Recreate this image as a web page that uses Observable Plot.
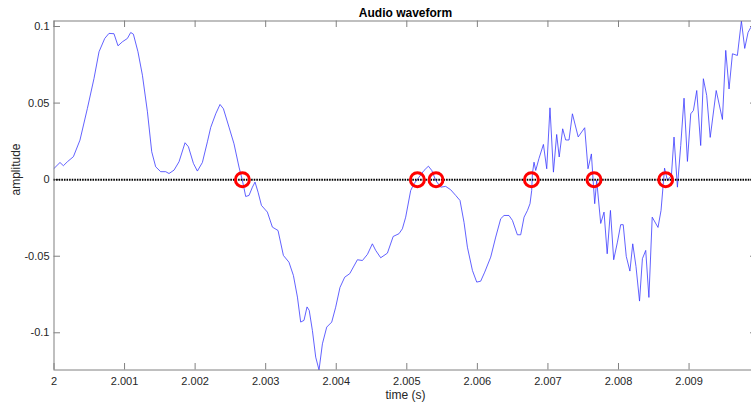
<!DOCTYPE html>
<html>
<head>
<meta charset="utf-8">
<script src="https://cdn.jsdelivr.net/npm/d3@7"></script>
<script src="https://cdn.jsdelivr.net/npm/@observablehq/plot@0.6"></script>
<style>
  html, body { margin: 0; padding: 0; background: #fff; overflow: hidden; }
  #chart svg { display: block; }
</style>
</head>
<body>
<div id="chart"></div>
<script>
// Sample times (s) and amplitudes of the audio excerpt
const time = [
  2.000000, 2.000085, 2.000133, 2.000190, 2.000275, 2.000368, 2.000473, 2.000567, 2.000638, 2.000719,
  2.000779, 2.000850, 2.000907, 2.000969, 2.001040, 2.001087, 2.001125, 2.001190, 2.001253, 2.001324,
  2.001385, 2.001441, 2.001512, 2.001583, 2.001630, 2.001701, 2.001772, 2.001857, 2.001905, 2.001976,
  2.002032, 2.002103, 2.002174, 2.002221, 2.002292, 2.002353, 2.002401, 2.002480, 2.002551, 2.002622,
  2.002670, 2.002717, 2.002764, 2.002812, 2.002849, 2.002892, 2.002940, 2.003024, 2.003095, 2.003175,
  2.003251, 2.003330, 2.003393, 2.003450, 2.003496, 2.003543, 2.003586, 2.003617, 2.003662, 2.003709,
  2.003756, 2.003804, 2.003865, 2.003936, 2.003992, 2.004053, 2.004120, 2.004191, 2.004300, 2.004371,
  2.004442, 2.004512, 2.004559, 2.004630, 2.004725, 2.004807, 2.004889, 2.004937, 2.004984, 2.005055,
  2.005102, 2.005173, 2.005244, 2.005306, 2.005354, 2.005410, 2.005480, 2.005551, 2.005622, 2.005693,
  2.005754, 2.005811, 2.005859, 2.005930, 2.005991, 2.006047, 2.006104, 2.006189, 2.006260, 2.006331,
  2.006378, 2.006448, 2.006497, 2.006567, 2.006614, 2.006662, 2.006710, 2.006746, 2.006770, 2.006780,
  2.006803, 2.006827, 2.006873, 2.006936, 2.006983, 2.007029, 2.007078, 2.007124, 2.007160, 2.007209,
  2.007252, 2.007299, 2.007347, 2.007429, 2.007521, 2.007568, 2.007616, 2.007639, 2.007663, 2.007691,
  2.007748, 2.007795, 2.007840, 2.007886, 2.007932, 2.007985, 2.008031, 2.008067, 2.008110, 2.008162,
  2.008202, 2.008248, 2.008298, 2.008339, 2.008386, 2.008431, 2.008478, 2.008560, 2.008603, 2.008653,
  2.008693, 2.008750, 2.008787, 2.008835, 2.008882, 2.008929, 2.008977, 2.009024, 2.009062, 2.009109,
  2.009165, 2.009203, 2.009250, 2.009300, 2.009385, 2.009473, 2.009520, 2.009567, 2.009615, 2.009685,
  2.009742, 2.009789, 2.009836, 2.009874, 2.009963
];

const amplitude = [
  0.0073, 0.0112, 0.0091, 0.0117, 0.0150, 0.0258, 0.0465, 0.0661, 0.0835, 0.0922,
  0.0955, 0.0953, 0.0874, 0.0900, 0.0922, 0.0961, 0.0950, 0.0835, 0.0682, 0.0443,
  0.0182, 0.0084, 0.0052, 0.0052, 0.0040, 0.0062, 0.0117, 0.0241, 0.0215, 0.0106,
  0.0056, 0.0112, 0.0247, 0.0341, 0.0430, 0.0491, 0.0463, 0.0343, 0.0234, 0.0082,
  -0.0005, -0.0110, -0.0103, -0.0049, -0.0016, -0.0082, -0.0168, -0.0212, -0.0310, -0.0332,
  -0.0495, -0.0539, -0.0626, -0.0767, -0.0930, -0.0919, -0.0831, -0.0854, -0.0985, -0.1159,
  -0.1243, -0.1072, -0.0963, -0.0930, -0.0833, -0.0704, -0.0637, -0.0614, -0.0523, -0.0528,
  -0.0488, -0.0419, -0.0462, -0.0510, -0.0480, -0.0371, -0.0353, -0.0321, -0.0245, -0.0071,
  -0.0027, 0.0016, 0.0060, 0.0088, 0.0060, -0.0005, -0.0049, -0.0044, -0.0066, -0.0103,
  -0.0136, -0.0279, -0.0441, -0.0593, -0.0669, -0.0663, -0.0604, -0.0506, -0.0375, -0.0255,
  -0.0234, -0.0234, -0.0266, -0.0360, -0.0360, -0.0245, -0.0201, -0.0157, -0.0071, 0.0039,
  0.0114, 0.0060, 0.0138, 0.0230, 0.0071, 0.0469, 0.0049, 0.0295, 0.0148, 0.0332,
  0.0259, 0.0259, 0.0430, 0.0279, 0.0339, 0.0071, 0.0168, 0.0005, -0.0157, -0.0005,
  -0.0286, -0.0212, -0.0484, -0.0201, -0.0523, -0.0408, -0.0294, -0.0294, -0.0501, -0.0597,
  -0.0419, -0.0567, -0.0793, -0.0516, -0.0462, -0.0769, -0.0245, -0.0312, -0.0201, 0.0075,
  -0.0005, 0.0027, 0.0278, -0.0049, 0.0223, 0.0532, 0.0119, 0.0430, 0.0452, 0.0582,
  0.0223, 0.0659, 0.0550, 0.0276, 0.0582, 0.0393, 0.0844, 0.0592, 0.0822, 0.0811,
  0.1036, 0.0857, 0.0961, 0.0994, 0.0974
];

// Detected zero crossings (s)
const crossings = [2.002670, 2.005150, 2.005414, 2.006766, 2.007653, 2.008669];

// Axis ticks
const xTicks = [2, 2.001, 2.002, 2.003, 2.004, 2.005, 2.006, 2.007, 2.008, 2.009];
const xTickLabels = ["2", "2.001", "2.002", "2.003", "2.004", "2.005", "2.006", "2.007", "2.008", "2.009"];
const yTicks = [-0.1, -0.05, 0, 0.05, 0.1];
const yTickLabels = ["-0.1", "-0.05", "0", "0.05", "0.1"];

const samples = time.map((t, i) => ({t, a: amplitude[i]}));

const W = 751, H = 407;
const mL = 53.5, mR = -5.5, mT = 20.5, mB = 37.5;
const innerW = W - mL - mR;
const innerH = H - mT - mB;
const tickLen = 6.5;
const axisColor = "#808080";
const textColor = "#262626";
const font = "'Liberation Sans', Arial, Helvetica, sans-serif";

const chart = Plot.plot({
  width: W,
  height: H,
  marginLeft: mL,
  marginRight: mR,
  marginTop: mT,
  marginBottom: mB,
  style: {fontFamily: font, background: "#fff", overflow: "hidden"},
  x: {domain: d3.extent(time), axis: null},
  y: {domain: d3.extent(amplitude), axis: null},
  marks: [
    // inward ticks on all four sides
    Plot.ruleX(xTicks, {x: d => d, stroke: axisColor, insetTop: innerH - tickLen}),
    Plot.ruleX(xTicks, {x: d => d, stroke: axisColor, insetBottom: innerH - tickLen}),
    Plot.ruleY(yTicks, {y: d => d, stroke: axisColor, insetRight: innerW - tickLen}),
    Plot.ruleY(yTicks, {y: d => d, stroke: axisColor, insetLeft: innerW - tickLen}),
    // waveform
    Plot.line(samples, {x: "t", y: "a", stroke: "#3a3aff", strokeWidth: 0.8}),
    // zero reference
    Plot.ruleY([0], {stroke: "#000", strokeWidth: 2, strokeDasharray: "1.6,1"}),
    // zero-crossing markers
    Plot.dot(crossings, {x: d => d, y: () => 0, r: 7, stroke: "#ff0000", strokeWidth: 3, fill: "none"}),
    Plot.frame({stroke: axisColor}),
    // tick labels
    Plot.text(xTicks, {x: d => d, frameAnchor: "bottom", dy: 11, lineAnchor: "middle",
      text: (d, i) => xTickLabels[i], fontSize: 11, fill: textColor}),
    Plot.text(yTicks, {y: d => d, frameAnchor: "left", dx: -4.5, textAnchor: "end", lineAnchor: "middle",
      text: (d, i) => yTickLabels[i], fontSize: 11, fill: textColor}),
    // title and axis labels
    Plot.text(["Audio waveform"], {text: d => d, frameAnchor: "top", dy: -8, lineAnchor: "middle",
      fontSize: 12, fontWeight: "bold", fill: "#000"}),
    Plot.text(["time (s)"], {text: d => d, frameAnchor: "bottom", dy: 25.5, lineAnchor: "middle",
      fontSize: 12, fill: textColor}),
    Plot.text(["amplitude"], {text: d => d, frameAnchor: "left", dx: -38, rotate: -90, lineAnchor: "middle",
      fontSize: 12, fill: textColor})
  ]
});

document.getElementById("chart").appendChild(chart);
</script>
</body>
</html>
